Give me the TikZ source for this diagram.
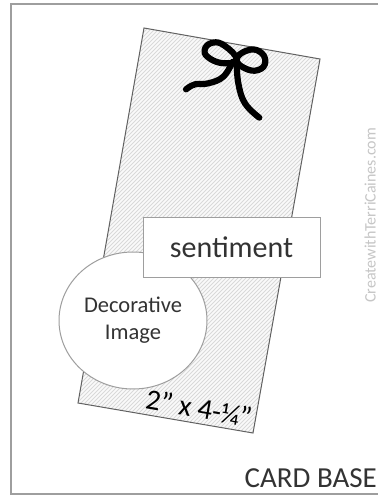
\documentclass[tikz,border=0pt]{standalone}
\usetikzlibrary{shapes.geometric}
\usepackage{fontspec}
\setmainfont{Carlito}
\definecolor{framegray}{gray}{0.62}
\definecolor{edgegray}{gray}{0.38}
\definecolor{hatchgray}{gray}{0.85}
\definecolor{inkgray}{gray}{0.2}
\tikzset{
  cardframe/.style={draw=framegray,line width=1.3pt},
  panel/.style={draw=edgegray,line width=1pt,line join=miter},
  hatch/.style={draw=hatchgray,line width=.8pt},
  whitebox/.style={draw=framegray,fill=white,line width=1pt,inner sep=0pt,text=inkgray,align=center},
  bowline/.style={draw=black,line width=6.2pt,line cap=round,line join=round},
}
\begin{document}
\begin{tikzpicture}[x=1pt,y=-1pt]
\useasboundingbox (0,0) rectangle (378,497);
\fill[white] (0,0) rectangle (378,497);
% card frame
\draw[cardframe] (378,4) -- (11,4) -- (11,494) -- (378,494);
% panel corners
\coordinate (tl) at (144,28);
\coordinate (tr) at (320,59);
\coordinate (br) at (253,433);
\coordinate (bl) at (78,403);
\begin{scope}
  \clip (tl) -- (tr) -- (br) -- (bl) -- cycle;
  \fill[gray!4] (60,20) rectangle (330,440);
  \foreach \k in {-100,-96,...,440} {
    \draw[hatch] (\k-180,440) -- (\k+300,-40);
  }
\end{scope}
\draw[panel] (tl) -- (tr) -- (br) -- (bl) -- cycle;
% bow
\begin{scope}[shift={(130,20)},x=.3333pt,y=-.3333pt]
  \draw[bowline] plot[smooth cycle,tension=.8] coordinates {(320,118) (285,78) (248,68) (224,90) (240,116) (285,130)};
  \draw[bowline] plot[smooth cycle,tension=.8] coordinates {(320,118) (350,92) (388,94) (406,125) (385,150) (345,145)};
  \draw[bowline] plot[smooth,tension=.7] coordinates {(308,125) (280,170) (235,190) (195,193) (168,208)};
  \draw[bowline] plot[smooth,tension=.7] coordinates {(320,125) (325,190) (345,250) (388,293)};
\end{scope}
% image circle
\node[whitebox,ellipse,minimum width=148pt,minimum height=137pt,font=\fontsize{22.5}{27}\selectfont] (image) at (133,320.5) {Decorative\\Image};
% sentiment box
\node[whitebox,rectangle,minimum width=177pt,minimum height=60pt,font=\fontsize{30}{32}\selectfont] (sentiment) at (231.5,247) {sentiment};
% size label
\node[text=black,rotate=-10,inner sep=0pt,font=\fontsize{29}{30}\selectfont] (size) at (199,408) {2" x 4-¼"};
% card label
\node[text=inkgray,anchor=east,inner sep=0pt,font=\fontsize{29}{30}\selectfont] (card) at (377,478) {CARD BASE};
% watermark
\node[text=gray!45,rotate=90,anchor=base west,inner sep=0pt,font=\fontsize{16}{17}\selectfont] (mark) at (375.5,303) {CreatewithTerriCaines.com};
\end{tikzpicture}
\end{document}
